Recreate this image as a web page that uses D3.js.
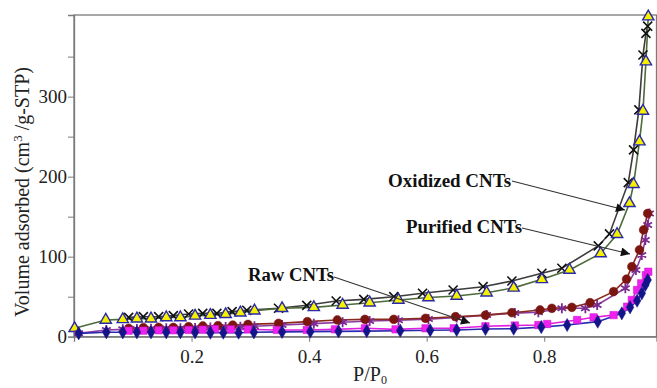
<!DOCTYPE html>
<html><head><meta charset="utf-8">
<script src="https://cdn.jsdelivr.net/npm/d3@7"></script>
<style>body{margin:0;background:#fff}svg{display:block}text{font-family:"Liberation Serif","Times New Roman",serif}</style>
</head><body>
<svg id="c" width="657" height="388"></svg>
<script>
// Oxidized CNTs (adsorption, triangles)
const oxAdsP = [0.001,0.054,0.083,0.107,0.131,0.157,0.181,0.206,0.232,0.258,0.283,0.307,0.354,0.408,0.457,0.503,0.552,0.603,0.651,0.702,0.748,0.796,0.843,0.896,0.924,0.945,0.952,0.962,0.968,0.973,0.977];
const oxAdsV = [10.5,20.9,21.7,22.5,22.5,24,24,26,27,28,30,32.5,35.5,36.7,39.6,42.5,45.9,49,50.9,55,61,71.7,83.4,104,128,166.7,190.5,243.8,282,343.8,400];
// Oxidized CNTs (desorption, crosses)
const oxDesP = [0.093,0.118,0.144,0.169,0.195,0.219,0.243,0.269,0.294,0.348,0.396,0.446,0.493,0.544,0.593,0.645,0.696,0.745,0.796,0.830,0.892,0.911,0.943,0.952,0.961,0.968,0.973,0.976];
const oxDesV = [24.2,25,25,26.3,28.4,29.2,29.2,31.3,33,35.5,39.2,44.6,46.7,50,54.2,58.4,62.5,69.6,79.2,85.5,113.4,128.4,192.5,233.4,283.4,352,379,388];
// Purified CNTs (circles)
const puCirP = [0.093,0.118,0.144,0.169,0.195,0.219,0.245,0.270,0.296,0.348,0.397,0.448,0.495,0.544,0.598,0.649,0.700,0.745,0.793,0.813,0.847,0.878,0.918,0.940,0.949,0.962,0.969,0.976];
const puCirV = [10.5,11.3,11.7,11.7,12.5,13.4,13.8,14.6,15.4,16.7,18.8,20.9,21.7,21.7,23,25,27,30,33.4,35.5,36.7,42.5,56.3,72,87.5,108.4,133.4,154];
// Purified CNTs (asterisks)
const puAstP = [0.008,0.055,0.083,0.107,0.131,0.157,0.181,0.206,0.232,0.258,0.283,0.307,0.354,0.408,0.457,0.503,0.552,0.603,0.651,0.702,0.750,0.790,0.830,0.870,0.890,0.938,0.956,0.966,0.972,0.976,0.979];
const puAstV = [4.2,8.4,9.2,9.6,10,10.5,10.5,11,11.5,12,12.5,13,14.6,16.3,18,19.6,20.5,22,24,27,29.5,30.5,35.5,35.5,39.6,60.5,83.4,102,120.9,139.6,154];
// Raw CNTs (squares)
const rwSqP = [0.093,0.118,0.144,0.169,0.195,0.219,0.240,0.267,0.296,0.345,0.396,0.444,0.495,0.547,0.598,0.646,0.700,0.750,0.790,0.805,0.856,0.884,0.918,0.941,0.949,0.958,0.965,0.973,0.977];
const rwSqV = [7.5,7.5,8,8,8.4,8.8,9.5,9.2,9.2,8.4,8.4,9.2,10.5,9.2,10.5,10.5,13,14,14.6,15.9,20.9,24.2,27,37.5,45.9,58.4,66.7,77,81.2];
// Raw CNTs (diamonds)
const rwDiP = [0.008,0.055,0.083,0.107,0.131,0.157,0.181,0.206,0.232,0.254,0.280,0.306,0.354,0.402,0.450,0.498,0.555,0.606,0.651,0.700,0.748,0.795,0.839,0.891,0.932,0.946,0.958,0.966,0.972,0.976];
const rwDiV = [4.2,5.5,5.5,5.5,5.5,5.5,5.5,5.5,5,5,5,5.5,6,6.3,6.7,7,7.5,8,8.4,9.6,10,12,14.6,18.8,29.2,36.7,45,54.2,64.6,70.9];

const xTicks = [0.2,0.4,0.6,0.8];
const yTicks = [0,50,100,150,200,250,300,350];
const yLabels = [0,100,200,300];
const notes = ["Oxidized CNTs","Purified CNTs","Raw CNTs"];

const svg = d3.select("#c");
const x = d3.scaleLinear().domain([0,0.991]).range([74,656.5]);
const y = d3.scaleLinear().domain([0,402]).range([336.7,15]);
const axisCol = "#7a7a7a";

// frame
svg.append("rect").attr("x",74).attr("y",15).attr("width",582.5).attr("height",321.7)
  .attr("fill","none").attr("stroke",axisCol).attr("stroke-width",1.3);

// y axis
const ya = svg.append("g").attr("transform","translate(74,0)")
  .call(d3.axisLeft(y).tickValues(yTicks).tickSize(6).tickFormat(d=>yLabels.includes(d)?d:""));
ya.select(".domain").attr("stroke",axisCol).attr("stroke-width",1.3);
ya.selectAll(".tick line").attr("stroke",axisCol);
ya.selectAll(".tick text").attr("font-size",19).attr("fill","#222").attr("x",-7)
  .style("font-family","Liberation Serif");

// x axis
const xa = svg.append("g").attr("transform","translate(0,336.7)")
  .call(d3.axisBottom(x).tickValues(xTicks).tickSize(5).tickFormat(d3.format(".1f")));
xa.select(".domain").attr("stroke",axisCol).attr("stroke-width",1.3);
xa.selectAll(".tick line").attr("stroke",axisCol);
xa.selectAll(".tick text").attr("font-size",19).attr("fill","#222").attr("dy","0.95em")
  .style("font-family","Liberation Serif");

// axis titles
const xt = svg.append("text").attr("x",370).attr("y",381).attr("text-anchor","middle")
  .attr("font-size",20).attr("fill","#222");
xt.append("tspan").text("P/P");
xt.append("tspan").attr("font-size",12).attr("dy",3).text("0");

const yt = svg.append("text").attr("transform","translate(29,192) rotate(-90)")
  .attr("text-anchor","middle").attr("font-size",20).attr("fill","#222");
yt.append("tspan").text("Volume adsorbed (cm");
yt.append("tspan").attr("font-size",13).attr("dy",-7).text("3");
yt.append("tspan").attr("dy",7).text(" /g-STP)");

function series(P,V){return P.map((p,i)=>[p,V[i]]);}
const line = d3.line().x(d=>x(d[0])).y(d=>y(d[1]));

const defs = [
  {d:series(oxDesP,oxDesV), line:"#3c3c3c", sym:d3.symbolTimes, size:55, fill:"none", stroke:"#111", sw:1.6},
  {d:series(oxAdsP,oxAdsV), line:"#4d6b3a", sym:d3.symbolTriangle, size:55, fill:"#f5f000", stroke:"#2a2aa8", sw:1.4},
  {d:series(puAstP,puAstV), line:"#8a3aa0", sym:d3.symbolAsterisk, size:70, fill:"none", stroke:"#7a2a90", sw:1.8},
  {d:series(puCirP,puCirV), line:"#8b2a1e", sym:d3.symbolCircle, size:60, fill:"#7a1510", stroke:"#7a1510", sw:0.5},
  {d:series(rwSqP,rwSqV), line:"#e020e0", sym:d3.symbolSquare, size:55, fill:"#ee22ee", stroke:"#cc10cc", sw:0.5},
  {d:series(rwDiP,rwDiV), line:"#2a2ab0", sym:d3.symbolDiamond, size:50, fill:"#14148a", stroke:"#14148a", sw:0.5}
];
defs.forEach(s=>{
  svg.append("path").datum(s.d).attr("d",line).attr("fill","none").attr("stroke",s.line).attr("stroke-width",1.6);
});
defs.forEach(s=>{
  svg.append("g").selectAll("path").data(s.d).join("path")
    .attr("transform",d=>`translate(${x(d[0])},${y(d[1])})`)
    .attr("d",d3.symbol().type(s.sym).size(s.size))
    .attr("fill",s.fill).attr("stroke",s.stroke).attr("stroke-width",s.sw);
});

// annotations
svg.append("defs").append("marker").attr("id","ah").attr("viewBox","0 0 10 10")
  .attr("refX",10).attr("refY",5).attr("markerWidth",12).attr("markerHeight",9)
  .attr("markerUnits","userSpaceOnUse").attr("orient","auto")
  .append("path").attr("d","M0,0L10,5L0,10Z").attr("fill","#111");
const ann = [
  {t:notes[0], tx:388, ty:187, len:123, x1:512, y1:181, x2:625, y2:210},
  {t:notes[1], tx:406, ty:233, len:116, x1:522, y1:228, x2:630, y2:254},
  {t:notes[2], tx:248, ty:281, len:86, x1:334, y1:277, x2:470, y2:323}
];
ann.forEach(a=>{
  svg.append("text").attr("x",a.tx).attr("y",a.ty).attr("font-size",18).attr("font-weight","bold")
    .attr("fill","#111").attr("textLength",a.len).attr("lengthAdjust","spacingAndGlyphs").text(a.t);
  svg.append("line").attr("x1",a.x1).attr("y1",a.y1).attr("x2",a.x2).attr("y2",a.y2)
    .attr("stroke","#333").attr("stroke-width",1.1).attr("marker-end","url(#ah)");
});
</script>
</body></html>
